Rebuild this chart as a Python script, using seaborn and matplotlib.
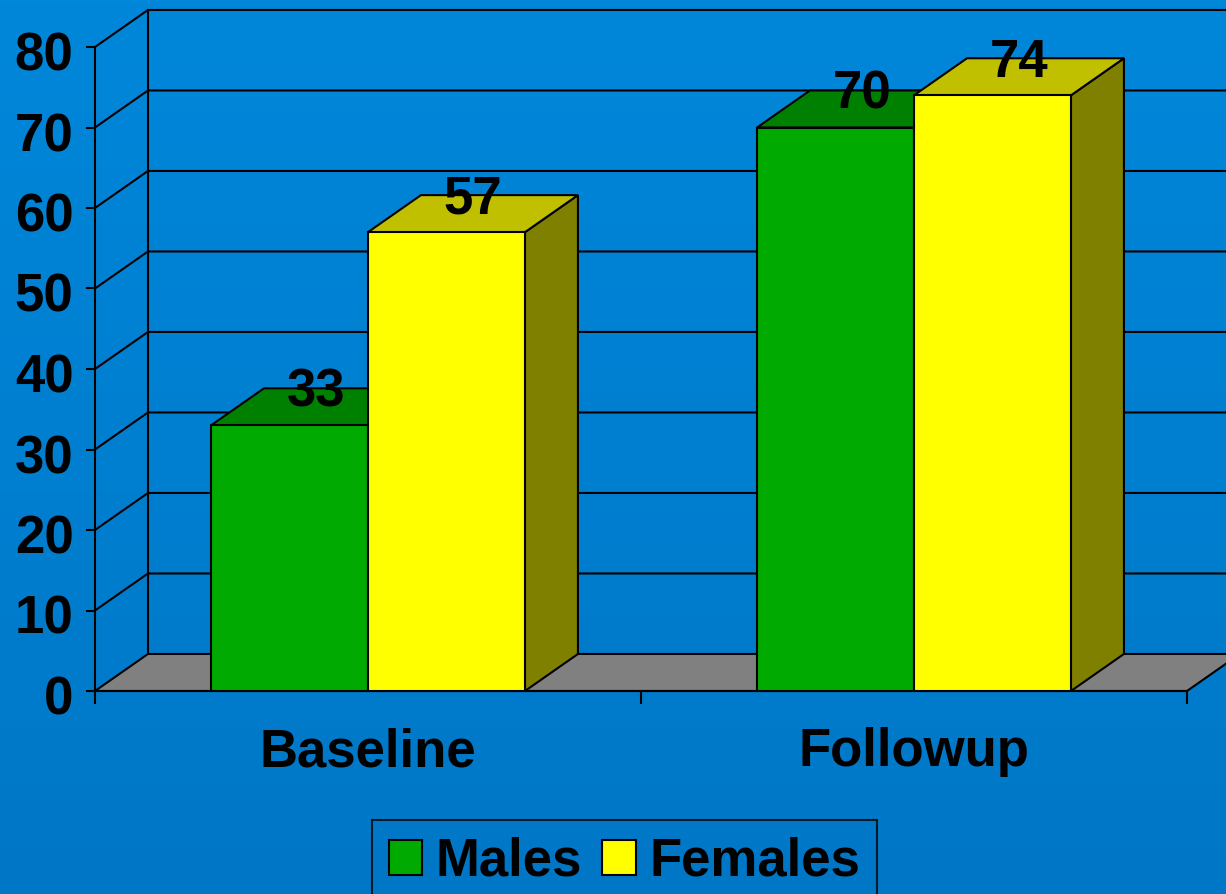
import numpy as np
import pandas as pd
import matplotlib
matplotlib.use("Agg")
import matplotlib.pyplot as plt
from matplotlib.patches import Polygon, Patch, Rectangle
from matplotlib.colors import LinearSegmentedColormap
from matplotlib.transforms import ScaledTranslation
import seaborn as sns

# Chart data
periods = ["Baseline", "Followup"]
groups = ["Males", "Females"]
males = [33, 70]
females = [57, 74]
y_ticks = [0, 10, 20, 30, 40, 50, 60, 70, 80]

# Face colours for the pseudo-3D bars
front_colors = {"Males": "#00AA00", "Females": "#FFFF00"}
top_colors = {"Males": "#008000", "Females": "#C0C000"}
side_colors = {"Males": "#006000", "Females": "#808000"}

df = pd.DataFrame({
    "period": periods * 2,
    "group": [groups[0]] * len(periods) + [groups[1]] * len(periods),
    "value": males + females,
})

sns.set_theme(style="ticks")
plt.rcParams["font.family"] = ["Liberation Sans", "DejaVu Sans"]
plt.rcParams["font.weight"] = "bold"
plt.rcParams["text.color"] = "black"
plt.rcParams["xtick.color"] = "black"
plt.rcParams["ytick.color"] = "black"

W, H = 1226, 894
fig = plt.figure(figsize=(W / 100, H / 100), dpi=100)

# Blue gradient backdrop
bg = fig.add_axes([0, 0, 1, 1], zorder=-10)
grad = np.linspace(0, 1, 256)[:, None]
cmap = LinearSegmentedColormap.from_list("bg", ["#0087DA", "#0077C6"])
bg.imshow(grad, aspect="auto", cmap=cmap, extent=[0, 1, 0, 1])
bg.axis("off")

ax = fig.add_axes([95 / W, (H - 691) / H, 1092 / W, 644 / H])
ax.patch.set_alpha(0)

sns.barplot(data=df, x="period", y="value", hue="group", hue_order=groups,
            order=periods, palette=front_colors, width=0.575, saturation=1,
            edgecolor="black", linewidth=1.5, legend=False, ax=ax)

bars = [p for p in ax.patches if isinstance(p, Rectangle) and p.get_width() > 0]
bars = sorted(bars, key=lambda p: p.get_x())

ax.set_xlim(-0.5, 1.5)
ax.set_ylim(0, 80)

# Depth offset of the 3D look, in data units
DX, DY = 0.097, 4.6
LW = 1.5

# Floor, side wall and back wall gridlines
floor = Polygon([(-0.5, 0), (1.5, 0), (1.5 + DX, DY), (-0.5 + DX, DY)],
                closed=True, facecolor="#808080", edgecolor="black",
                linewidth=LW, clip_on=False, zorder=1)
ax.add_patch(floor)
for v in y_ticks[1:]:
    ax.plot([-0.5, -0.5 + DX, 1.5 + DX], [v, v + DY, v + DY],
            color="black", lw=LW, clip_on=False, zorder=0.5)
ax.plot([-0.5 + DX, -0.5 + DX], [DY, 80 + DY], color="black", lw=LW,
        clip_on=False, zorder=0.5)

# Top and side faces for each bar, plus value labels
for i, rect in enumerate(bars):
    g = groups[i % 2]
    x0, w, h = rect.get_x(), rect.get_width(), rect.get_height()
    base_z = 3 + 2 * (i % 2)
    rect.set_zorder(base_z + 0.5)
    side = Polygon([(x0 + w, 0), (x0 + w + DX, DY), (x0 + w + DX, h + DY), (x0 + w, h)],
                   closed=True, facecolor=side_colors[g], edgecolor="black",
                   linewidth=LW, clip_on=False, zorder=base_z)
    top = Polygon([(x0, h), (x0 + w, h), (x0 + w + DX, h + DY), (x0 + DX, h + DY)],
                  closed=True, facecolor=top_colors[g], edgecolor="black",
                  linewidth=LW, clip_on=False, zorder=base_z)
    ax.add_patch(side)
    ax.add_patch(top)
    ax.text(x0 + w / 2 + DX / 2, h + DY / 2, f"{h:.0f}", ha="center",
            va="baseline", fontsize=38, fontweight="bold", zorder=20,
            clip_on=False)

# Axes styling
for s in ["top", "right"]:
    ax.spines[s].set_visible(False)
for s in ["left", "bottom"]:
    ax.spines[s].set_color("black")
    ax.spines[s].set_linewidth(LW)
    ax.spines[s].set_zorder(2)

ax.set_yticks(y_ticks)
ax.set_yticklabels([str(t) for t in y_ticks])
ax.tick_params(axis="y", length=6.5, width=LW, pad=9, labelsize=38,
               direction="out")
ax.set_xticks([0, 1])
ax.set_xticklabels(periods)
ax.set_xticks([-0.5, 0.5, 1.5], minor=True)
ax.tick_params(axis="x", which="major", length=0, pad=26, labelsize=38)
ax.tick_params(axis="x", which="minor", length=9, width=LW, direction="out")
ax.set_xlabel("")
ax.set_ylabel("")

# Nudge the value-axis labels slightly below their ticks
shift = ScaledTranslation(0, -4 / 100, fig.dpi_scale_trans)
for lab in ax.get_yticklabels():
    lab.set_transform(lab.get_transform() + shift)

# Legend
handles = [Patch(facecolor=front_colors[g], edgecolor="black", linewidth=LW)
           for g in groups]
leg = fig.legend(handles, groups, loc="upper left",
                 bbox_to_anchor=(372 / W, 1 - 820 / H), ncol=2, frameon=True,
                 fancybox=False, edgecolor="black", facecolor="none",
                 prop={"size": 38, "weight": "bold"}, handlelength=0.63,
                 handleheight=0.63, handletextpad=0.26, columnspacing=0.38,
                 borderpad=0.32, borderaxespad=0)
leg.get_frame().set_linewidth(LW)

fig.savefig("out.png", dpi=100)
